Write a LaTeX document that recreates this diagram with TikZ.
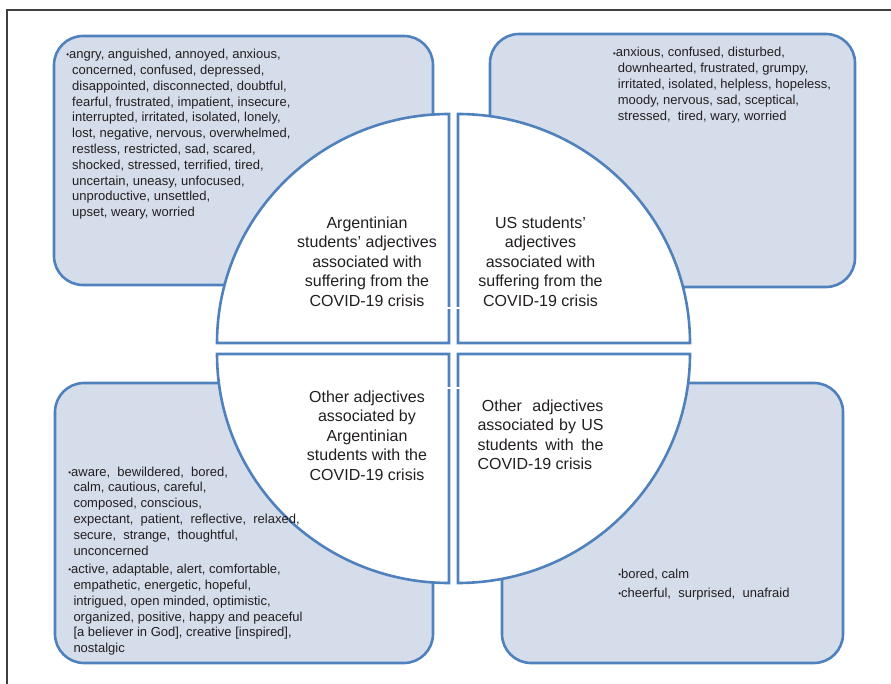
\documentclass[tikz,border=0pt]{standalone}
\usepackage{fontspec}
\setmainfont{Liberation Sans}
\definecolor{bblue}{RGB}{79,129,189}
\definecolor{bfill}{RGB}{213,221,234}
\definecolor{txt}{RGB}{35,31,32}
\newcommand{\bul}{{\fontsize{8}{8}\selectfont\raisebox{0.8pt}{•}}}
\begin{document}
\begin{tikzpicture}[x=1pt,y=-1pt,
  box/.style={draw=bblue, line width=2.6pt, fill=bfill, rounded corners=29pt, inner sep=0pt},
  quarter/.style={draw=bblue, line width=2.6pt, fill=white},
  gapmark/.style={draw=white, line width=1.6pt},
  list/.style={anchor=base west, align=left, inner sep=0pt, text=txt, font=\fontsize{13}{15.8}\selectfont},
  title/.style={anchor=base, align=center, inner sep=0pt, text=txt, font=\fontsize{16}{19.5}\selectfont},
  frameline/.style={draw=black!75, line width=1.2pt}]
\useasboundingbox (0,0) rectangle (891,684);
% outer frame
\coordinate (fbl) at (7,684);
\coordinate (ftl) at (7,10);
\coordinate (ftr) at (891,10);
\draw[frameline] (fbl) -- (ftl) -- (ftr);
% boxes
\node[box, minimum width=379pt, minimum height=249pt] (tlbox) at (243.5,160.5) {};
\node[box, minimum width=365pt, minimum height=253pt] (trbox) at (672.5,160.5) {};
\node[box, minimum width=378pt, minimum height=280pt] (blbox) at (244,523) {};
\node[box, minimum width=341pt, minimum height=280pt] (brbox) at (672.5,523) {};
% quarters of the circle
\draw[quarter] (449,343) -- (217,343) arc[start angle=180, end angle=270, x radius=232, y radius=229] -- cycle;
\draw[quarter] (458,343) -- (458,114) arc[start angle=270, end angle=360, x radius=232, y radius=229] -- cycle;
\draw[quarter] (449,354) -- (217,354) arc[start angle=180, end angle=90, x radius=232, y radius=229] -- cycle;
\draw[quarter] (458,354) -- (690,354) arc[start angle=0, end angle=90, x radius=232, y radius=229] -- cycle;
\draw[gapmark] (444,308) -- (463,308);
\draw[gapmark] (444,388) -- (463,388);
% titles (anchor base = baseline of the last line)
\node[title] (tlt) at (367,306.3) {Argentinian\\students’ adjectives\\associated with\\suffering from the\\COVID-19 crisis};
\node[title] (trt) at (540.5,306.3) {US students’\\adjectives\\associated with\\suffering from the\\COVID-19 crisis};
\node[title] (blt) at (367,480.3) {Other adjectives\\associated by\\Argentinian\\students with the\\COVID-19 crisis};
\node[title, anchor=base west, align=left] (brt) at (477.3,469.8) {\hspace*{4.4pt}\makebox[121.6pt][s]{Other adjectives}\\\makebox[126pt][s]{associated by US}\\\makebox[126pt][s]{students with the}\\COVID-19 crisis};
% lists
\node[list] (tll) at (72,216.8) {\hspace*{-3pt}\llap{\bul}angry, anguished, annoyed, anxious,\\concerned, confused, depressed,\\disappointed, disconnected, doubtful,\\fearful, frustrated, impatient, insecure,\\interrupted, irritated, isolated, lonely,\\lost, negative, nervous, overwhelmed,\\restless, restricted, sad, scared,\\shocked, stressed, terrified, tired,\\uncertain, uneasy, unfocused,\\unproductive, unsettled,\\upset, weary, worried};
\node[list] (trl) at (617.7,120.2) {\hspace*{-2pt}\llap{\bul}anxious, confused, disturbed,\\downhearted, frustrated, grumpy,\\irritated, isolated, helpless, hopeless,\\moody, nervous, sad, sceptical,\\stressed, \ tired, wary, worried};
\node[list] (bll1) at (73.3,555.1) {\hspace*{-2.3pt}\llap{\bul}aware, \ bewildered, \ bored,\\calm, cautious, careful,\\composed, conscious,\\expectant, \ patient, \ reflective, \ relaxed,\\secure, \ strange, \ thoughtful,\\unconcerned};
\node[list] (bll2) at (73.3,652.6) {\hspace*{-2.3pt}\llap{\bul}active, adaptable, alert, comfortable,\\empathetic, energetic, hopeful,\\intrigued, open minded, optimistic,\\organized, positive, happy and peaceful\\{[a} believer in God], creative [inspired],\\nostalgic};
\node[list] (brl1) at (621,578.3) {\llap{\bul}bored, calm};
\node[list] (brl2) at (621,597.6) {\llap{\bul}cheerful, \ surprised, \ unafraid};
\end{tikzpicture}
\end{document}
